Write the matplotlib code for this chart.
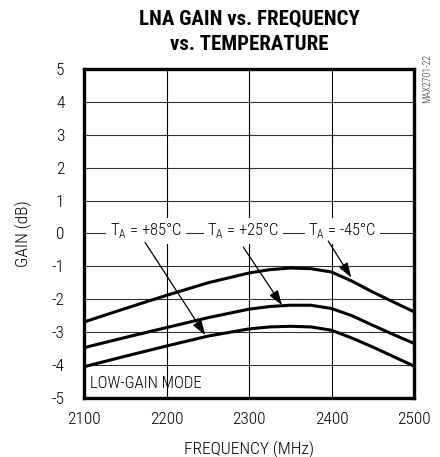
import matplotlib
matplotlib.use("Agg")
import matplotlib.pyplot as plt
import numpy as np

plt.rcParams['font.family'] = ['Roboto Condensed', 'Archivo Narrow', 'PT Sans Narrow', 'Liberation Sans', 'DejaVu Sans']
plt.rcParams['axes.unicode_minus'] = False

## data
freq = [2100, 2150, 2200, 2250, 2300, 2325, 2350, 2375, 2400, 2425, 2450, 2475, 2500]
gain_m45 = [-2.69, -2.28, -1.88, -1.50, -1.20, -1.10, -1.05, -1.07, -1.17, -1.45, -1.78, -2.08, -2.38]
gain_p25 = [-3.47, -3.16, -2.86, -2.56, -2.30, -2.22, -2.18, -2.18, -2.28, -2.50, -2.79, -3.07, -3.34]
gain_p85 = [-4.05, -3.73, -3.42, -3.12, -2.90, -2.84, -2.82, -2.84, -2.94, -3.18, -3.45, -3.74, -4.03]

labels = ["T$_\\mathregular{A}$ = +85°C", "T$_\\mathregular{A}$ = +25°C", "T$_\\mathregular{A}$ = -45°C"]
label_x = [2175, 2293, 2413]
arrow_tail = [(2174, -0.27), (2293, -0.41), (2396, -0.23)]
arrow_tip = [(2247, -3.09), (2340, -2.18), (2424, -1.34)]

xticks = [2100, 2200, 2300, 2400, 2500]
yticks = [5, 4, 3, 2, 1, 0, -1, -2, -3, -4, -5]

#%%
fig = plt.figure(figsize=(4.4, 4.57), dpi=100)
ax = fig.add_axes([84 / 440, 1 - 398 / 457, 330 / 440, 329 / 457])

for t in xticks[1:-1]:
    ax.axvline(t, color='black', lw=0.8, zorder=1)
for t in yticks[1:-1]:
    ax.axhline(t, color='#333333', lw=0.8, zorder=1)

for g in [gain_m45, gain_p25, gain_p85]:
    ax.plot(freq, g, color='black', lw=2.2, solid_capstyle='butt', zorder=3)

for s, x in zip(labels, label_x):
    ax.text(x, 0.08, s, fontsize=12, fontweight='light', ha='center', va='center', zorder=4,
            bbox=dict(facecolor='white', edgecolor='none', pad=2.5))

for (tx, ty), (hx, hy) in zip(arrow_tail, arrow_tip):
    ax.annotate("", xy=(hx, hy), xytext=(tx, ty), zorder=4,
                arrowprops=dict(arrowstyle="-|>,head_length=0.9,head_width=0.3",
                                color='black', lw=0.9, shrinkA=0, shrinkB=0))

ax.text(2107, -4.55, "LOW-GAIN MODE", fontsize=12, fontweight='light', ha='left', va='center')

ax.set_xlim(2100, 2500)
ax.set_ylim(-5, 5)
ax.set_xticks(xticks)
ax.set_yticks(yticks)
ax.tick_params(length=0, labelsize=12.5)
ax.tick_params(axis='x', pad=10)
ax.tick_params(axis='y', pad=14)
for lab in ax.get_xticklabels() + ax.get_yticklabels():
    lab.set_fontweight('light')
for sp in ax.spines.values():
    sp.set_linewidth(2.4)

ax.set_xlabel("FREQUENCY (MHz)", fontsize=12.5, fontweight='light', labelpad=10)
ax.set_ylabel("GAIN (dB)", fontsize=12.5, fontweight='light', labelpad=14)

fig.text(249 / 440, 1 - 32 / 457, "LNA GAIN vs. FREQUENCY\nvs. TEMPERATURE", fontsize=15,
         fontweight='bold', ha='center', va='center', linespacing=1.4)
fig.text(427 / 440, 1 - 78 / 457, "MAX2701-22", fontsize=7, fontweight='light', rotation=90,
         ha='center', va='center', color='#333333')

fig.savefig("out.png", dpi=100)
